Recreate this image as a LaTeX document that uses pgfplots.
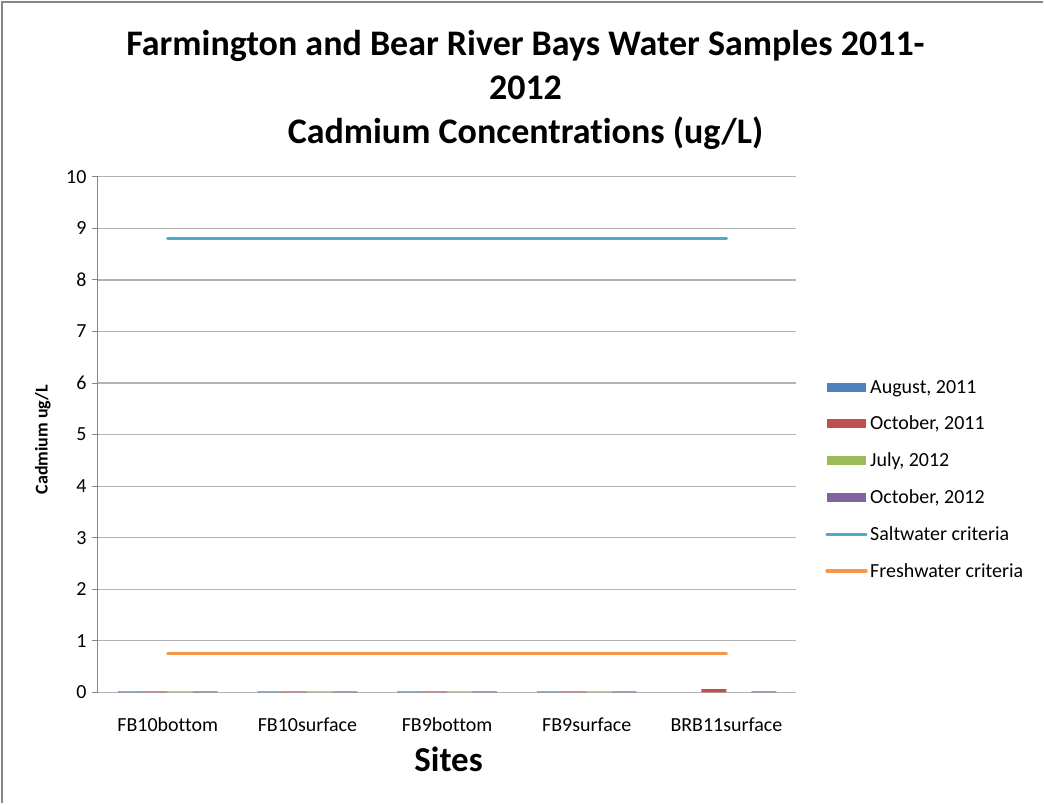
\documentclass[border=0pt]{standalone}
\usepackage{fontspec}
\setmainfont[Ligatures={NoCommon}]{Carlito}
\usepackage{pgfplots}
\pgfplotsset{compat=1.18}

\definecolor{augA}{HTML}{4F81BD}
\definecolor{octA}{HTML}{C0504D}
\definecolor{julB}{HTML}{9BBB59}
\definecolor{octB}{HTML}{8064A2}
\definecolor{salt}{HTML}{4BACC6}
\definecolor{fresh}{HTML}{F79646}
\definecolor{gridgray}{HTML}{B3B3B3}
\definecolor{framegray}{HTML}{868686}

\pgfplotsset{
  barkey/.style={ybar, bar width=25pt, draw=none, fill=#1,
    legend image code/.code={\fill[##1] (0pt,-4.5pt) rectangle (39pt,4.5pt);}},
  critline/.style={sharp plot, no markers, line width=3.5pt, line cap=round, color=#1,
    legend image code/.code={\draw[##1] (0pt,0pt) -- (39pt,0pt);}},
}

\begin{document}
\begin{tikzpicture}[x=1pt,y=1pt]
\path (0,0) rectangle (1044,804);
\draw[framegray, line width=2pt] (2,0) -- (2,802) -- (1044,802);

\node[align=center, font=\fontsize{36}{44}\selectfont\bfseries] at (526,714)
  {Farmington and Bear River Bays Water Samples 2011-\\2012\\Cadmium Concentrations (ug/L)};
\node[font=\fontsize{35}{40}\selectfont\bfseries] at (449,44) {Sites};
\node[rotate=90, font=\fontsize{18}{22}\selectfont\bfseries] at (43,364) {Cadmium ug/L};

\begin{axis}[
  at={(98pt,111pt)}, anchor=south west,
  scale only axis, width=699pt, height=516pt,
  xmin=-0.5, xmax=4.5, ymin=0, ymax=10,
  xtick={0,1,2,3,4},
  xticklabels={FB10bottom,FB10surface,FB9bottom,FB9surface,BRB11surface},
  ytick={0,1,...,10},
  major x tick style={draw=none},
  ytick style={framegray, line width=1pt},
  major tick length=6pt,
  tick align=outside,
  ymajorgrids, grid style={gridgray, line width=1.2pt},
  axis x line*=bottom, axis y line*=left,
  x axis line style={gridgray, line width=1.5pt, -},
  y axis line style={framegray, line width=1pt, -},
  tick label style={font=\fontsize{20}{23}\selectfont},
  xticklabel style={anchor=center, yshift=-26pt},
  yticklabel style={anchor=east, xshift=-2pt},
  /pgf/number format/assume math mode=true,
  legend cell align=left,
  legend style={at={(1.037,0.413)}, anchor=west, draw=none, fill=none,
    font=\fontsize{20}{23}\selectfont, row sep=16.5pt,
    nodes={inner sep=2.5pt}},
  clip=false,
]
\addplot[barkey=augA, bar shift=-37.5pt] coordinates {(0,0.02) (1,0.02) (2,0.02) (3,0.02)};
\addplot[barkey=octA, bar shift=-12.5pt] coordinates {(0,0.02) (1,0.02) (2,0.02) (3,0.02) (4,0.06)};
\addplot[barkey=julB, bar shift=12.5pt] coordinates {(0,0.02) (1,0.02) (2,0.02) (3,0.02)};
\addplot[barkey=octB, bar shift=37.5pt] coordinates {(0,0.02) (1,0.02) (2,0.02) (3,0.02) (4,0.02)};
\addplot[critline=salt] coordinates {(0,8.8) (4,8.8)};
\addplot[critline=fresh] coordinates {(0,0.75) (4,0.75)};
\legend{{August, 2011},{October, 2011},{July, 2012},{October, 2012},Saltwater criteria,Freshwater criteria}
\end{axis}
\end{tikzpicture}
\end{document}
